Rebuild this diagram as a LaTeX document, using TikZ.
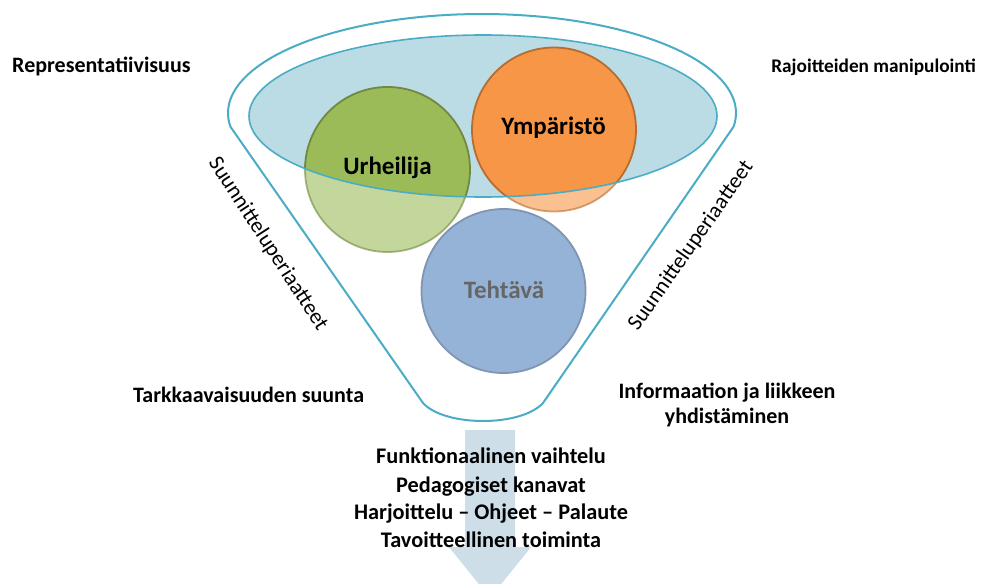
\documentclass[tikz,border=0pt]{standalone}
\usepackage{fontspec}
\setmainfont{Carlito}
\definecolor{funnelline}{HTML}{4BACC6}
\definecolor{rimfill}{HTML}{BCDCE5}
\definecolor{greenfill}{HTML}{9BBB59}
\definecolor{greenline}{HTML}{71893F}
\definecolor{orangefill}{HTML}{F79646}
\definecolor{orangeline}{HTML}{B66D31}
\definecolor{bluefill}{HTML}{95B3D7}
\definecolor{blueline}{HTML}{7F95B3}
\definecolor{arrowfill}{HTML}{CDDEE8}
\definecolor{tasktext}{HTML}{666666}
\begin{document}
\begin{tikzpicture}[x=1pt,y=-1pt,
  cornertext/.style={font=\fontsize{22}{26}\selectfont\bfseries, inner sep=0pt},
  sidetext/.style={font=\fontsize{22}{26}\selectfont, inner sep=0pt},
  flowtext/.style={font=\fontsize{22.3}{26}\selectfont\bfseries, inner sep=0pt, anchor=base},
  circletext/.style={font=\fontsize{25}{30}\selectfont\bfseries, inner sep=0pt},
  ball/.style={line width=1.8pt},
  rim/.style={funnelline, line width=1.6pt}]
\useasboundingbox (0,0) rectangle (981,583);
\clip (0,0) rectangle (981,583);

% output arrow below the funnel
\fill[arrowfill] (465,430) -- (515,430) -- (515,547) -- (531,547) -- (490,598)
  -- (449,547) -- (465,547) -- cycle;

% funnel body
\draw[funnelline, line width=2pt, line join=round]
  plot[domain=172:368, samples=90] ({482+254*cos(\x)}, {113+99*sin(\x)})
  -- (543,403) .. controls (521,427) and (445,427) .. (423,403) -- cycle;

% circles, pale where they leave the funnel mouth
\path[ball, fill=greenfill, draw=greenline, fill opacity=0.6, draw opacity=0.6]
  (387.5,169.5) circle[radius=82.5];
\path[ball, fill=orangefill, draw=orangeline, fill opacity=0.6, draw opacity=0.6]
  (554,129.5) circle[radius=82];

% funnel mouth
\fill[rimfill] (483,116) ellipse[x radius=234, y radius=81];
\begin{scope}
  \clip (483,116) ellipse[x radius=234, y radius=81];
  \path[ball, fill=greenfill, draw=greenline] (387.5,169.5) circle[radius=82.5];
  \path[ball, fill=orangefill, draw=orangeline] (554,129.5) circle[radius=82];
\end{scope}
\draw[rim] (483,116) ellipse[x radius=234, y radius=81];

% task circle
\path[ball, fill=bluefill, draw=blueline] (503.5,291) circle[radius=82];

% circle labels
\node[circletext] (athlete) at (387.5,168) {Urheilija};
\node[circletext] (environment) at (553.5,128) {Ympäristö};
\node[circletext, text=tasktext] (task) at (504,290) {Tehtävä};

% corner labels
\node[cornertext, anchor=base west] (repr) at (12,73) {Representatiivisuus};
\node[cornertext, anchor=base east, font=\fontsize{19.3}{23}\selectfont\bfseries]
  (constr) at (976,73) {Rajoitteiden manipulointi};
\node[cornertext, anchor=base west] (attn) at (133,402) {Tarkkaavaisuuden suunta};
\node[cornertext, anchor=base] (info1) at (727,398) {Informaation ja liikkeen};
\node[cornertext, anchor=base] (info2) at (727,423) {yhdistäminen};

% funnel side labels
\node[sidetext, rotate=-57] (designL) at (268,244) {Suunnitteluperiaatteet};
\node[sidetext, rotate=55] (designR) at (691,246) {Suunnitteluperiaatteet};

% text over the arrow
\node[flowtext] (flow1) at (491,463) {Funktionaalinen vaihtelu};
\node[flowtext] (flow2) at (491,492) {Pedagogiset kanavat};
\node[flowtext] (flow3) at (491,519) {Harjoittelu – Ohjeet – Palaute};
\node[flowtext] (flow4) at (491,547) {Tavoitteellinen toiminta};
\end{tikzpicture}
\end{document}
